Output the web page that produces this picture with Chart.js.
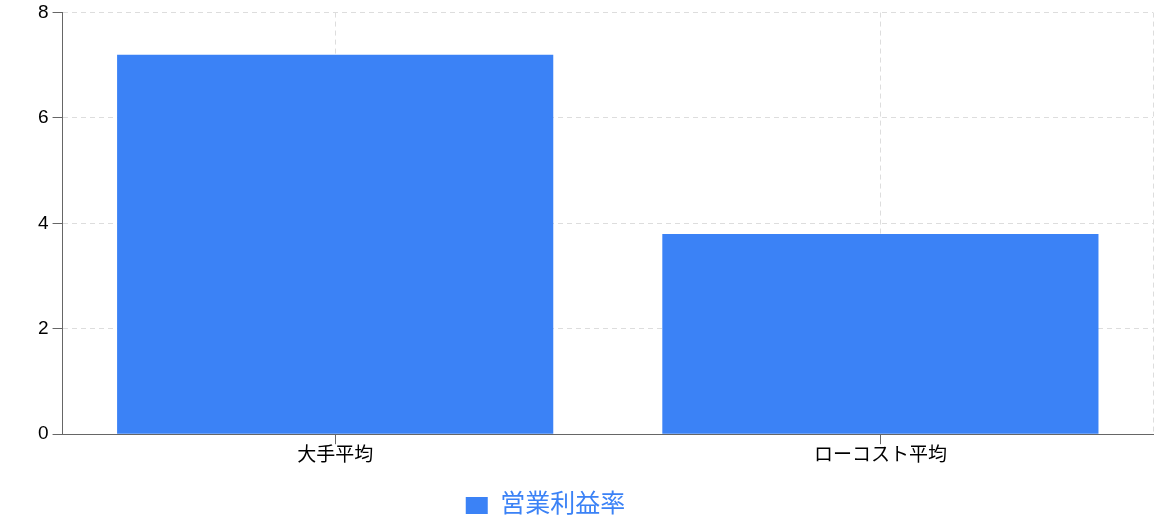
<!DOCTYPE html>
<html lang="ja">
<head>
  <meta charset="UTF-8">
  <title>営業利益率</title>
  <script src="https://cdn.jsdelivr.net/npm/chart.js@4.4.1/dist/chart.umd.min.js"></script>
  <style>
    html, body { margin: 0; padding: 0; background: #fff; }
    /* 画面サイズに合わせた固定の枠 */
    .chart-box { width: 1165px; height: 521px; }
  </style>
</head>
<body>
  <div class="chart-box"><canvas id="barChart"></canvas></div>

  <script>
    // データ
    var categories = ['大手平均', 'ローコスト平均'];
    var marginValues = [7.2, 3.8];
    var seriesName = '営業利益率';
    var yMin = 0, yMax = 8, yStep = 2;

    var BLUE = '#3b82f6';
    var AXIS = '#666666';
    var GRID = '#dddddd';
    var FONT = 'Helvetica, Arial, "Liberation Sans", "Noto Sans CJK JP", sans-serif';

    // 右端の破線（グリッドの外枠）
    var rightEdge = {
      id: 'rightEdge',
      beforeDatasetsDraw: function(chart) {
        var a = chart.chartArea, ctx = chart.ctx;
        ctx.save();
        ctx.strokeStyle = GRID;
        ctx.lineWidth = 1;
        ctx.setLineDash([5, 4]);
        ctx.beginPath();
        ctx.moveTo(a.right + 0.5, a.top);
        ctx.lineTo(a.right + 0.5, a.bottom);
        ctx.stroke();
        ctx.restore();
      }
    };

    // 凡例を少し左下へずらす
    var legendShift = {
      id: 'legendShift',
      afterLayout: function(chart) {
        var lg = chart.legend;
        if (!lg) return;
        lg.left -= 48;
        lg.right -= 48;
        lg.top += 16;
        lg.bottom += 16;
      }
    };

    var ctx = document.getElementById('barChart').getContext('2d');
    var chart = new Chart(ctx, {
      type: 'bar',
      data: {
        labels: categories,
        datasets: [{
          label: seriesName,
          data: marginValues,
          backgroundColor: BLUE,
          borderWidth: 0,
          barPercentage: 0.8,
          categoryPercentage: 1.0
        }]
      },
      options: {
        responsive: true,
        maintainAspectRatio: false,
        animation: false,
        layout: { padding: { left: 34, right: 12, top: 9, bottom: 9 } },
        plugins: {
          tooltip: { enabled: false },
          legend: {
            position: 'bottom',
            labels: {
              boxWidth: 22,
              boxHeight: 17,
              padding: 10,
              color: BLUE,
              font: { family: FONT, size: 25 }
            }
          }
        },
        scales: {
          x: {
            grid: {
              offset: false,
              color: GRID,
              tickColor: AXIS,
              tickLength: 10,
              tickBorderDash: []
            },
            border: { color: AXIS, width: 1, dash: [5, 4] },
            ticks: { color: '#000', padding: 0, font: { family: FONT, size: 19 } }
          },
          y: {
            min: yMin,
            max: yMax,
            grid: {
              color: GRID,
              tickColor: AXIS,
              tickLength: 10,
              tickBorderDash: []
            },
            border: { color: AXIS, width: 1, dash: [5, 4] },
            ticks: { stepSize: yStep, color: '#000', padding: 4, font: { family: FONT, size: 19, lineHeight: 0.9 } }
          }
        }
      },
      plugins: [rightEdge, legendShift]
    });
  </script>
</body>
</html>
